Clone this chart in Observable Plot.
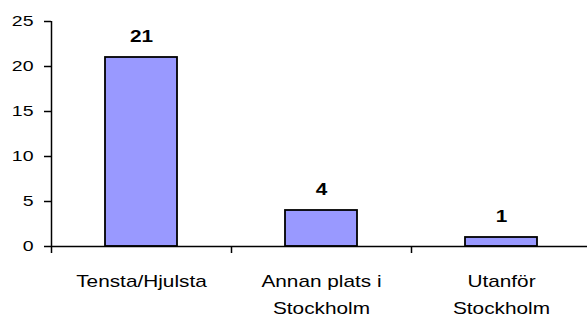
<!DOCTYPE html>
<html>
<head>
<meta charset="utf-8">
<script src="https://cdn.jsdelivr.net/npm/d3@7"></script>
<script src="https://cdn.jsdelivr.net/npm/@observablehq/plot@0.6"></script>
<style>
  html, body { margin: 0; padding: 0; background: #fff; overflow: hidden; }
</style>
</head>
<body>
<div id="chart"></div>
<script>
const categories = ["Tensta/Hjulsta", "Annan plats i\nStockholm", "Utanför\nStockholm"];
const values = [21, 4, 1];
const yTicks = [0, 5, 10, 15, 20, 25];

const data = categories.map((c, i) => ({cat: c, idx: i, value: values[i]}));
const pad = 0.3;
const fs = 15;

const chart = Plot.plot({
  width: 587,
  height: 316,
  marginLeft: 51,
  marginRight: -4,
  marginTop: 21,
  marginBottom: 70,
  style: {fontFamily: "'Liberation Sans', Arial, sans-serif", fontSize: fs + "px", color: "#000", background: "#fff", overflow: "visible"},
  x: {domain: [0, categories.length]},
  y: {domain: [0, 25]},
  marks: [
    Plot.rectY(data, {x1: d => d.idx + pad, x2: d => d.idx + 1 - pad, y1: 0, y2: "value", fill: "#9999FF", stroke: "#000", strokeWidth: 1.8}),
    Plot.ruleY([0], {stroke: "#000", strokeWidth: 1.5}),
    Plot.ruleX([0], {y1: 0, y2: 25, stroke: "#000", strokeWidth: 1.5}),
    Plot.axisY({ticks: yTicks, tickSize: 7, tickPadding: 11, tickFormat: d => String(d), strokeWidth: 1.5, label: null, fill: "#000", fontSize: fs}),
    Plot.axisX({ticks: d3.range(categories.length + 1), tickSize: 7, tickFormat: () => "", strokeWidth: 1.5, label: null}),
    Plot.text(data, {x: d => d.idx + 0.5, y: "value", text: d => String(d.value), dy: -16, lineAnchor: "bottom", fontWeight: "bold", fill: "#000", fontSize: 16}),
    Plot.text(data, {x: d => d.idx + 0.5, y: 0, text: "cat", dy: 21, lineAnchor: "top", lineHeight: 1.7, fill: "#000", fontSize: 16})
  ]
});

// Reference text is horizontally stretched; widen glyphs around their anchors.
for (const t of chart.querySelectorAll("text")) {
  const xa = t.getAttribute("x");
  let x = 0;
  if (xa != null && /^-?[\d.]+$/.test(xa.trim())) { x = +xa; t.removeAttribute("x"); }
  const tr = t.getAttribute("transform") || "";
  t.setAttribute("transform", `${tr} translate(${x},0) scale(1.3,1)`);
}

document.getElementById("chart").appendChild(chart);
</script>
</body>
</html>
